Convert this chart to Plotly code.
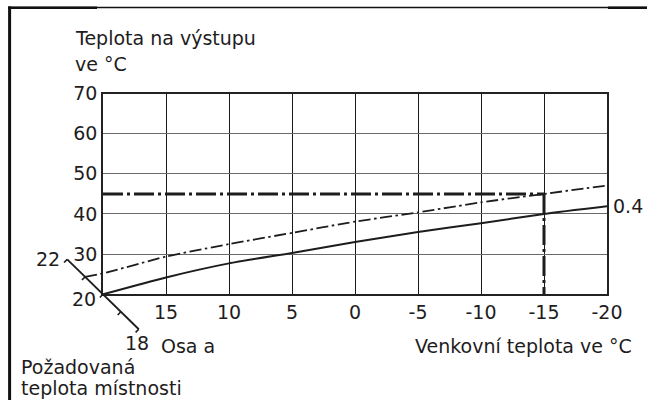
import plotly.graph_objects as go

# ---------------- data ----------------
outdoor_temp = [20, 15, 10, 5, 0, -5, -10, -15, -20]
flow_curve_04 = [20.0, 24.2, 27.7, 30.3, 33.0, 35.5, 37.7, 40.0, 41.9]
flow_curve_shifted = [25.2, 29.4, 32.5, 35.3, 38.1, 40.4, 42.9, 45.0, 47.1]
shifted_room_temp = 21

x_tick_vals = [15, 10, 5, 0, -5, -10, -15, -20]
x_tick_text = ["15", "10", "5", "0", "-5", "-10", "-15", "-20"]
y_tick_vals = [30, 40, 50, 60, 70]
y_tick_text = ["30", "40", "50", "60", "70"]

room_temps = [22, 21, 20, 19, 18]
room_labels = ["22", "20", "18"]
room_label_vals = [22, 20, 18]

design_outdoor = -15
design_flow = 45
curve_label = "0.4"

# ---------------- layout geometry ----------------
W, H = 647, 400
PL, PR, PT, PB = 103, 607, 93.5, 294.3      # plot box in px
X0, X1 = 20, -20
Y0, Y1 = 20, 70
PX_X = (PR - PL) / (X0 - X1)
PX_Y = (PB - PT) / (Y1 - Y0)

# second (invisible) axes spanning whole figure with identical scale
x2_range = [X0 + PL / PX_X, X0 - (W - PL) / PX_X]
y2_range = [Y0 - (H - PB) / PX_Y, Y1 + PT / PX_Y]

# room-temperature (axis a) geometry: step per 1 degC in data units
ROOM_DX = 1.42
ROOM_DY = 4.35
def room_pt(r):
    return X0 + ROOM_DX * (r - 20), Y0 + ROOM_DY * (r - 20)

INK = "#1e1c1d"
FONT = "DejaVu Sans"
FS = 19

fig = go.Figure()

# solid heating curve 0.4
fig.add_trace(go.Scatter(x=outdoor_temp, y=flow_curve_04, mode="lines",
                         line=dict(color=INK, width=2, shape="spline", smoothing=0.6),
                         xaxis="x", yaxis="y", hoverinfo="skip"))

# design reading lines
fig.add_trace(go.Scatter(x=[X0, design_outdoor], y=[design_flow, design_flow], mode="lines",
                         line=dict(color=INK, width=3, dash="20px,4px,3px,4px"),
                         xaxis="x", yaxis="y", hoverinfo="skip"))
fig.add_trace(go.Scatter(x=[design_outdoor, design_outdoor], y=[design_flow, Y0], mode="lines",
                         line=dict(color=INK, width=3, dash="20px,4px,3px,4px"),
                         xaxis="x", yaxis="y", hoverinfo="skip"))

# shifted curve (dash-dot), starting on room temperature axis
sx, sy = room_pt(shifted_room_temp)
fig.add_trace(go.Scatter(x=[sx] + outdoor_temp, y=[sy] + flow_curve_shifted, mode="lines",
                         line=dict(color=INK, width=1.8, dash="12px,3.5px,2.5px,3.5px",
                                   shape="spline", smoothing=0.5),
                         xaxis="x2", yaxis="y2", hoverinfo="skip"))

# room temperature axis (diagonal)
ax_a = room_pt(max(room_temps))
ax_b = room_pt(min(room_temps))
fig.add_trace(go.Scatter(x=[ax_a[0], ax_b[0]], y=[ax_a[1], ax_b[1]], mode="lines",
                         line=dict(color=INK, width=1.8), xaxis="x2", yaxis="y2",
                         hoverinfo="skip"))
TICK = 4.5
tdx, tdy = (TICK / 1.414) / PX_X, -(TICK / 1.414) / PX_Y
tx, ty = [], []
for r in room_temps:
    px, py = room_pt(r)
    tx += [px, px + tdx, None]
    ty += [py, py + tdy, None]
fig.add_trace(go.Scatter(x=tx, y=ty, mode="lines", line=dict(color=INK, width=1.6),
                         xaxis="x2", yaxis="y2", hoverinfo="skip"))

annotations = []
def pann(text, px, py, xanchor="left", yanchor="middle"):
    annotations.append(dict(text=text, x=px / W, y=1 - py / H, xref="paper", yref="paper",
                            xanchor=xanchor, yanchor=yanchor, showarrow=False,
                            font=dict(family=FONT, size=FS, color=INK)))

pann("Teplota na výstupu", 73, 38)
pann("ve °C", 73, 64)
pann("Osa a", 159, 346)
pann("Požadovaná", 19, 367)
pann("teplota místnosti", 19, 388)
pann("Venkovní teplota ve °C", 634, 346, xanchor="right")

# room axis labels
offsets = {22: (-5, 0, "right"), 20: (-5, -5, "right"), 18: (-2, -14, "center")}
for lab, v in zip(room_labels, room_label_vals):
    px, py = room_pt(v)
    dx, dy, xa = offsets[v]
    annotations.append(dict(text=lab, x=px, y=py, xref="x2", yref="y2", xanchor=xa,
                            yanchor="middle", xshift=dx, yshift=dy, showarrow=False,
                            font=dict(family=FONT, size=FS, color=INK)))

# curve label
annotations.append(dict(text=curve_label, x=outdoor_temp[-1], y=flow_curve_04[-1],
                        xref="x", yref="y", xanchor="left", yanchor="middle", xshift=4,
                        showarrow=False, font=dict(family=FONT, size=FS, color=INK)))

shapes = [
    # page frame
    dict(type="line", xref="paper", yref="paper", x0=8 / W, x1=1, y0=1 - 7.6 / H, y1=1 - 7.6 / H,
         line=dict(color="#111", width=1.5)),
    dict(type="line", xref="paper", yref="paper", x0=8 / W, x1=97 / W, y0=1 - 7.8 / H, y1=1 - 7.8 / H,
         line=dict(color="#111", width=2.5)),
    dict(type="line", xref="paper", yref="paper", x0=608 / W, x1=1, y0=1 - 7.8 / H, y1=1 - 7.8 / H,
         line=dict(color="#111", width=2.5)),
    dict(type="line", xref="paper", yref="paper", x0=9.6 / W, x1=9.6 / W, y0=0, y1=1 - 6.5 / H,
         line=dict(color="#111", width=3)),
]

fig.update_layout(
    width=W, height=H, margin=dict(l=0, r=0, t=0, b=0, autoexpand=False),
    paper_bgcolor="white", plot_bgcolor="rgba(0,0,0,0)", showlegend=False,
    font=dict(family=FONT, size=FS, color=INK),
    xaxis=dict(domain=[PL / W, PR / W], range=[X0, X1], tickvals=x_tick_vals, ticktext=x_tick_text,
               showgrid=True, gridcolor="#1a1a1a", gridwidth=1.2, zeroline=False,
               showline=True, linecolor="#222", linewidth=1.5, mirror=True, ticks="",
               tickfont=dict(family=FONT, size=FS, color=INK), anchor="y", automargin=False),
    yaxis=dict(domain=[1 - PB / H, 1 - PT / H], range=[Y0, Y1], tickvals=y_tick_vals, ticktext=y_tick_text,
               showgrid=True, gridcolor="#6a6a6a", gridwidth=1.2, zeroline=False,
               showline=True, linecolor="#222", linewidth=1.5, mirror=True, ticks="",
               tickfont=dict(family=FONT, size=FS, color=INK), anchor="x", automargin=False),
    xaxis2=dict(domain=[0, 1], range=x2_range, visible=False, anchor="y2", fixedrange=True),
    yaxis2=dict(domain=[0, 1], range=y2_range, visible=False, anchor="x2", fixedrange=True),
    annotations=annotations, shapes=shapes,
)

fig.write_html("out.html", config={"displayModeBar": False},
               post_script="document.body.style.margin='0px';document.body.style.overflow='hidden';")
